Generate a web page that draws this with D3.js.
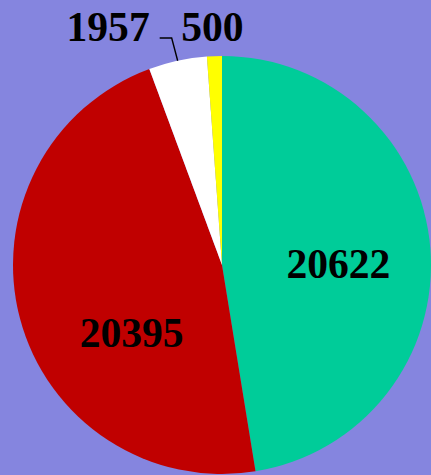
<!DOCTYPE html>
<html>
<head>
<meta charset="utf-8">
<script src="https://cdn.jsdelivr.net/npm/d3@7"></script>
<style>
  html, body { margin: 0; padding: 0; background: #8585df; }
  svg { display: block; }
  text { font-family: 'Liberation Serif', 'Times New Roman', serif; font-weight: bold; font-size: 41.6px; fill: #000; }
</style>
</head>
<body>
<div id="chart"></div>
<script>
const categories = ['A', 'B', 'C', 'D']
const values = [20622, 20395, 1957, 500]
const colors = ['#00cc99', '#c00000', '#ffffff', '#ffff00']

const width = 431
const height = 475
const radius = 209
const cx = 222
const cy = 265

// inner labels: radius fraction and angle nudge (deg), outer labels sit above the pie
const inside = { A: { r: 0.557, shift: 3.6 }, B: { r: 0.54, shift: -22 } }
const outside = { C: { dx: -28, anchor: 'end', leader: true }, D: { dx: -2, anchor: 'middle', leader: false } }

const data = categories.map((c, i) => ({ key: c, value: values[i], color: colors[i] }))

const svg = d3.select('#chart')
  .append('svg')
    .attr('width', width)
    .attr('height', height)

const g = svg.append('g')
  .attr('transform', `translate(${cx}, ${cy})`)

const pie = d3.pie()
  .sort(null)
  .value(d => d.value)

const arc = d3.arc()
  .innerRadius(0)
  .outerRadius(radius)

const arcs = pie(data)

g.selectAll('path.slice')
  .data(arcs)
  .enter()
  .append('path')
    .attr('class', 'slice')
    .attr('d', arc)
    .attr('fill', d => d.data.color)

// labels inside the big slices
arcs.filter(d => inside[d.data.key]).forEach(d => {
  const p = inside[d.data.key]
  const a = (d.startAngle + d.endAngle) / 2 + p.shift * Math.PI / 180
  const r = radius * p.r
  g.append('text')
    .attr('x', Math.sin(a) * r)
    .attr('y', -Math.cos(a) * r)
    .attr('dy', '0.35em')
    .attr('text-anchor', 'middle')
    .text(d.data.value)
})

// labels outside the small slices
arcs.filter(d => outside[d.data.key]).forEach(d => {
  const p = outside[d.data.key]
  const a = (d.startAngle + d.endAngle) / 2
  const ax = Math.sin(a) * radius
  const ay = -Math.cos(a) * radius
  const ty = -radius - 15

  g.append('text')
    .attr('x', ax + p.dx)
    .attr('y', ty)
    .attr('text-anchor', p.anchor)
    .text(d.data.value)

  if (p.leader) {
    g.append('path')
      .attr('d', d3.line()([[ax - 18, ty - 3], [ax - 6, ty - 3], [ax, ay]]))
      .attr('stroke', '#000')
      .attr('stroke-width', 1.4)
      .attr('fill', 'none')
  }
})
</script>
</body>
</html>
